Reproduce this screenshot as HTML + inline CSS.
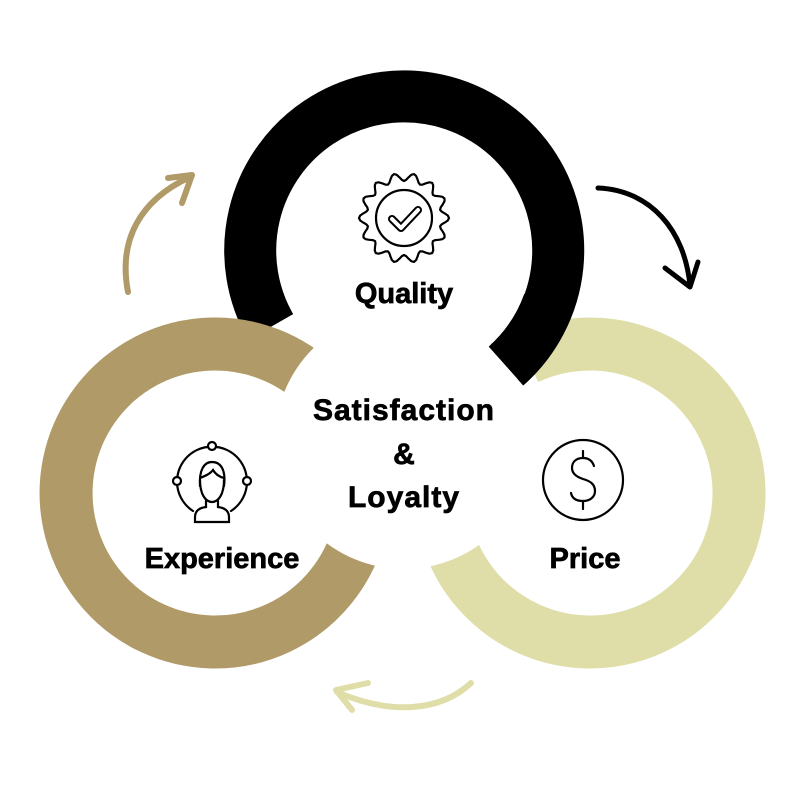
<!DOCTYPE html>
<html><head><style>
html,body{margin:0;padding:0;background:#fff;}
svg{display:block;}
text{font-family:"Liberation Sans",sans-serif;font-weight:bold;fill:#000;text-anchor:middle;stroke:#000;stroke-width:0.7;}
</style></head><body>
<svg width="800" height="800" viewBox="0 0 800 800">
<rect width="800" height="800" fill="#fff"/>
<!-- green ring -->
<path d="M527,358 A149,149 0 1 1 450,544" fill="none" stroke="#dfdea8" stroke-width="53"/>
<!-- black ring -->
<path d="M506,366 A154,154 0 1 0 270.6,327" fill="none" stroke="#000" stroke-width="52"/>
<!-- tan ring -->
<path d="M359,531.6 A149,149 0 1 1 320.4,387.6" fill="none" stroke="#b09a67" stroke-width="53"/>
<circle cx="404" cy="440" r="129" fill="#fff"/>
<!-- redraw black end over white circle -->
<path d="M506,366 A154,154 0 0 0 548.7,302.7" fill="none" stroke="#000" stroke-width="52"/>

<!-- arrows -->
<g fill="none" stroke-linecap="round" stroke-linejoin="round">
<path d="M128,292 C118,240 140,200 190,177" stroke="#b09a67" stroke-width="6"/>
<path d="M168,178 L192,175 L182,203" stroke="#b09a67" stroke-width="6"/>
<path d="M598,188 C650,190 685,230 690,286" stroke="#000" stroke-width="5"/>
<path d="M665,268 L690,287 L698,262" stroke="#000" stroke-width="5"/>
<path d="M471,683 C440,712 390,715 337,692" stroke="#dfdea8" stroke-width="6"/>
<path d="M368,683 L336,690 L352,710" stroke="#dfdea8" stroke-width="6"/>
</g>

<!-- quality badge -->
<g fill="none" stroke="#000" stroke-width="2.2" stroke-linecap="round" stroke-linejoin="round">
<path id="badge" d=""/>
<circle cx="404" cy="218" r="28"/>
<path d="M392,219 L401,228 L418,210" stroke-width="8" stroke="#000"/>
<path d="M392,219 L401,228 L418,210" stroke-width="4" stroke="#fff"/>
</g>
<!-- person icon -->
<g fill="none" stroke="#000" stroke-width="2.2" stroke-linecap="round">
<path d="M193,511 A35,35 0 1 1 231,511"/>
<circle cx="212" cy="446" r="4" fill="#fff"/>
<circle cx="177" cy="481" r="4" fill="#fff"/>
<circle cx="247" cy="481" r="4" fill="#fff"/>
<path d="M200,486 C199,470 204,462 212,462 C221,462 226,470 224,486"/>
<path d="M200,478 C205,476 210,474 213,470 C216,475 220,477 224,478"/>
<path d="M200,480 C200,495 206,502 212,502 C218,502 224,495 224,480"/>
<path d="M206,501 L206,507 C198,508 195,512 195,517 L195,522 L229,522 L229,517 C229,512 226,508 218,507 L218,501"/>
</g>
<!-- dollar icon -->
<g fill="none" stroke="#000" stroke-width="2.2" stroke-linecap="round">
<circle cx="583" cy="480" r="40"/>
<path d="M594,466 C592,460 588,458 583,458 C576,458 572,462 572,468 C572,474 577,477 583,479 C590,481 595,484 595,491 C595,497 590,501 583,501 C576,501 572,498 571,493"/>
<path d="M583,451 L583,458 M583,501 L583,509"/>
</g>

<text x="404" y="303" font-size="29">Quality</text>
<text x="404" y="420" font-size="30" letter-spacing="1">Satisfaction</text>
<text x="404" y="464" font-size="30">&amp;</text>
<text x="404" y="507" font-size="30" letter-spacing="1">Loyalty</text>
<text x="222" y="568" font-size="29">Experience</text>
<text x="585" y="568" font-size="29">Price</text>
</svg>
<script>
(function(){var cx=404,cy=218,n=14,d="";for(var i=0;i<=n*8;i++){var a=i/(n*8)*Math.PI*2-Math.PI/2;var r=41+4*Math.cos(a*n);var x=cx+r*Math.cos(a),y=cy+r*Math.sin(a);d+=(i?"L":"M")+x.toFixed(1)+","+y.toFixed(1);}document.getElementById("badge").setAttribute("d",d+"Z");})();
</script>
</body></html>
